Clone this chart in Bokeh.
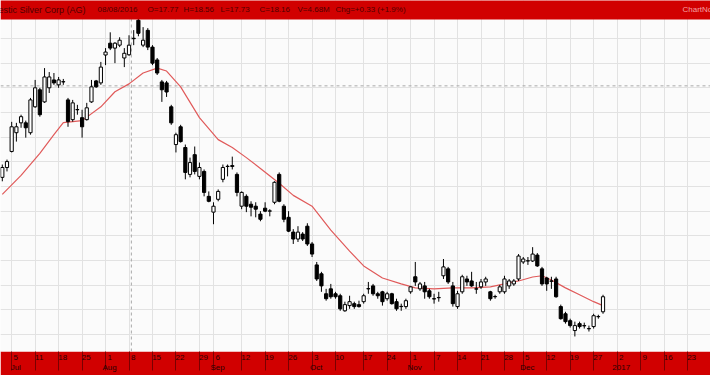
from bokeh.plotting import figure
from bokeh.models import FixedTicker, Span, Range1d
from bokeh.embed import file_html
from bokeh.resources import INLINE
from bokeh.core.properties import value

# Daily OHLC, First Majestic Silver (AG), 29 Jun 2016 .. 30 Dec 2016 (trading-day index 0..128)
opens = [12.80, 13.20, 13.85, 14.61, 15.01, 15.01, 14.61, 15.66, 16.35, 15.86,
         16.43, 16.75, 16.55, 16.67, 15.94, 15.14, 15.54, 15.22, 15.14, 15.86,
         16.71, 16.63, 17.76, 18.24, 18.04, 18.16, 17.64, 17.77, 18.44, 19.17,
         18.16, 18.76, 18.08, 17.56, 16.67, 16.63, 15.66, 14.13, 14.85, 14.01,
         12.92, 13.72, 12.84, 13.04, 12.03, 11.39, 11.91, 12.72, 13.24, 13.24,
         12.92, 11.63, 12.03, 11.71, 11.63, 11.31, 11.55, 11.43, 11.79, 12.92,
         11.63, 11.18, 10.58, 10.30, 10.50, 10.82, 10.10, 9.25, 8.89, 8.08,
         8.28, 8.08, 8.00, 7.39, 7.60, 7.68, 7.64, 7.76, 8.28, 8.40,
         8.08, 8.16, 7.88, 8.08, 7.76, 7.56, 7.56, 8.16, 8.77, 8.28,
         8.40, 8.20, 7.88, 7.92, 8.81, 9.09, 8.40, 7.56, 8.16, 8.68,
         8.60, 8.28, 8.36, 8.56, 8.16, 7.96, 8.16, 8.16, 8.40, 8.48,
         8.68, 9.37, 9.41, 9.41, 9.65, 9.09, 8.72, 8.60, 8.68, 7.56,
         7.27, 6.99, 6.59, 6.87, 6.79, 6.67, 6.75, 7.15, 7.35]
highs = [13.32, 13.52, 15.05, 15.01, 15.34, 15.10, 16.02, 16.75, 16.43, 17.23,
         17.07, 17.03, 16.87, 16.79, 16.02, 15.94, 15.74, 15.54, 15.82, 16.75,
         16.75, 17.48, 18.04, 18.68, 18.28, 18.48, 18.04, 18.56, 18.77, 19.25,
         18.89, 18.85, 18.16, 17.64, 16.75, 16.71, 15.74, 14.61, 14.93, 14.13,
         13.60, 14.05, 13.40, 13.12, 12.23, 11.79, 12.31, 13.32, 13.32, 13.64,
         13.00, 12.23, 12.11, 11.83, 11.79, 11.43, 11.79, 11.51, 12.64, 13.00,
         11.71, 11.43, 10.70, 10.82, 10.58, 10.94, 10.18, 9.37, 8.97, 8.28,
         8.48, 8.16, 8.08, 7.76, 8.00, 7.76, 7.80, 8.08, 8.56, 8.48,
         8.16, 8.20, 8.16, 8.12, 7.88, 7.68, 7.88, 8.40, 9.37, 8.56,
         8.56, 8.28, 8.08, 8.16, 9.49, 9.17, 8.56, 8.20, 8.85, 8.81,
         8.97, 8.56, 8.68, 8.77, 8.20, 8.04, 8.44, 8.81, 8.68, 8.68,
         9.69, 9.57, 9.57, 9.97, 9.73, 9.17, 8.77, 8.77, 8.77, 7.64,
         7.35, 7.07, 6.95, 6.95, 6.91, 6.79, 7.27, 7.23, 8.04]
lows = [12.64, 13.04, 13.81, 14.25, 14.81, 14.41, 14.53, 15.62, 15.26, 15.82,
        16.22, 16.55, 16.43, 16.55, 14.85, 15.06, 15.34, 14.41, 15.10, 15.82,
        16.43, 16.55, 17.35, 17.96, 17.43, 18.08, 17.27, 17.73, 18.16, 18.52,
        18.08, 17.96, 17.35, 16.95, 15.86, 16.06, 14.93, 13.81, 14.21, 12.72,
        12.80, 12.92, 12.72, 12.03, 11.79, 10.90, 11.83, 12.60, 12.84, 13.12,
        12.03, 11.51, 11.39, 11.22, 11.18, 11.02, 11.39, 11.22, 11.71, 11.79,
        10.98, 10.58, 10.10, 10.18, 10.22, 10.02, 9.57, 8.60, 8.16, 7.80,
        7.88, 7.88, 7.39, 7.35, 7.47, 7.47, 7.52, 7.68, 8.08, 8.00,
        7.88, 7.60, 7.80, 7.64, 7.39, 7.39, 7.47, 8.08, 8.40, 8.20,
        7.88, 7.88, 7.68, 7.76, 8.68, 8.48, 7.56, 7.47, 8.08, 8.40,
        8.36, 8.08, 8.28, 8.40, 7.80, 7.88, 8.08, 8.08, 8.28, 8.40,
        8.60, 9.29, 9.25, 9.37, 9.17, 8.40, 8.20, 8.28, 7.92, 7.03,
        6.87, 6.71, 6.35, 6.67, 6.67, 6.55, 6.67, 7.07, 7.27]
closes = [13.20, 13.44, 14.85, 14.85, 15.26, 14.81, 15.94, 16.43, 15.34, 16.87,
          16.87, 16.63, 16.75, 16.68, 15.06, 15.82, 15.55, 14.85, 15.62, 16.47,
          16.47, 17.27, 17.88, 18.04, 18.24, 18.36, 17.83, 18.16, 18.42, 18.64,
          18.36, 18.08, 17.43, 17.03, 16.35, 16.26, 15.01, 14.53, 14.25, 13.00,
          13.40, 13.04, 13.20, 12.19, 11.83, 11.63, 12.23, 13.20, 13.25, 13.28,
          12.19, 12.19, 11.63, 11.59, 11.51, 11.10, 11.43, 11.44, 12.60, 11.83,
          11.10, 10.62, 10.30, 10.58, 10.30, 10.10, 9.69, 8.68, 8.40, 7.88,
          7.96, 7.96, 7.47, 7.64, 7.76, 7.56, 7.56, 8.00, 8.29, 8.08,
          8.00, 7.76, 8.08, 7.68, 7.47, 7.57, 7.80, 8.36, 8.56, 8.48,
          8.16, 7.96, 7.87, 7.93, 9.17, 8.56, 7.68, 8.08, 8.77, 8.56,
          8.40, 8.27, 8.56, 8.68, 7.88, 7.97, 8.36, 8.68, 8.60, 8.60,
          9.61, 9.49, 9.42, 9.69, 9.21, 8.48, 8.48, 8.59, 7.96, 7.07,
          6.95, 6.79, 6.79, 6.75, 6.78, 6.66, 7.19, 7.16, 7.96]

# 20-day moving average, sampled at these trading days
ma_days = [0, 4, 8, 11, 13, 17, 21, 24, 27, 30, 33, 35, 38, 42, 46, 49, 52, 55, 59, 62,
           66, 70, 74, 77, 81, 85, 88, 92, 96, 100, 104, 107, 110, 113, 115, 117, 120, 123, 126, 128]
ma_vals = [12.11, 12.88, 13.77, 14.53, 15.02, 15.10, 15.66, 16.27, 16.59, 17.03,
           17.23, 17.11, 16.47, 15.22, 14.33, 14.01, 13.60, 13.16, 12.56, 12.07,
           11.63, 10.66, 9.81, 9.21, 8.72, 8.48, 8.32, 8.28, 8.32, 8.32,
           8.36, 8.48, 8.60, 8.76, 8.81, 8.64, 8.32, 8.04, 7.76, 7.60]

# Date axis: trading-day position of each weekly / month tick and its label
tick_days = [-2, 2, 7, 12, 17, 22, 27, 32, 37, 42, 45, 51, 56, 61, 66, 71, 77, 82, 87,
             92, 97, 102, 107, 111, 116, 121, 126, 131, 136, 141, 146]
tick_labels = ["27", "5\nJul", "11", "18", "25", "1\nAug", "8", "15", "22", "29", "6\nSep",
               "12", "19", "26", "3\nOct", "10", "17", "24", "1\nNov", "7", "14", "21", "28",
               "5\nDec", "12", "19", "27", "2\n2017", "9", "16", "23"]

grid_prices = [6.43, 7.43, 8.43, 9.43, 10.43, 11.43, 12.43, 13.43, 14.43, 15.43, 16.43, 17.43, 18.43]

sel_day = 27                # 08/08/2016
sel_date = "08/08/2016"
sel_volume = "4.68M"
cursor_day = 27.5
cursor_price = 16.51

RED = "#d10000"
HEAD_TEXT = "#4e0000"
FONT = "Liberation Sans"
W, H, AXIS_H, HEADER_H = 710, 375, 22, 19
X0, X1 = -0.384, 150.9
Y0, Y1 = 5.74, 19.97
FRAME_H = H - AXIS_H


def col(px):
    """Horizontal pixel offset inside the frame -> trading-day coordinate."""
    return X0 + (X1 - X0) * px / W


def row(py):
    """Vertical pixel offset from the top of the frame -> price coordinate."""
    return Y1 - (Y1 - Y0) * py / FRAME_H


days = list(range(len(opens)))
up = [c >= o for o, c in zip(opens, closes)]

p = figure(width=W, height=H, x_range=Range1d(X0, X1), y_range=Range1d(Y0, Y1),
           toolbar_location=None, output_backend="svg",
           min_border_left=0, min_border_right=0, min_border_top=0, min_border_bottom=AXIS_H)
p.background_fill_color = "#fbfbfb"
p.border_fill_color = RED
p.outline_line_color = None
p.yaxis.visible = False

p.ygrid.ticker = FixedTicker(ticks=grid_prices)
p.xgrid.ticker = FixedTicker(ticks=tick_days)
p.grid.grid_line_color = "#e2e2e2"
p.grid.grid_line_width = 1

# date axis inside the red footer: separators as minor ticks, labels just right of them
label_pos = [d + 0.875 for d in tick_days]
p.xaxis.ticker = FixedTicker(ticks=label_pos, minor_ticks=tick_days)
p.xaxis.major_label_overrides = {pos: lab for pos, lab in zip(label_pos, tick_labels)}
p.xaxis.axis_line_color = None
p.xaxis.major_tick_out = 0
p.xaxis.major_tick_in = 0
p.xaxis.minor_tick_in = 0
p.xaxis.minor_tick_out = 19
p.xaxis.minor_tick_line_color = "#7a0000"
p.xaxis.major_label_standoff = -18
p.xaxis.major_label_text_font = FONT
p.xaxis.major_label_text_font_size = "8px"
p.xaxis.major_label_text_color = "#2a0000"

# cursor cross-hair
p.add_layout(Span(location=cursor_day, dimension="height", line_color="#a8a8a8",
                  line_dash="3 3", line_width=1, level="underlay"))
p.add_layout(Span(location=cursor_price, dimension="width", line_color="#a8a8a8",
                  line_dash="3 3", line_width=1, level="underlay"))

# moving average
p.line(ma_days, ma_vals, line_color="#e05a5a", line_width=1.2)

# candles
p.segment(x0=days, y0=lows, x1=days, y1=highs, line_color="black", line_width=1)
p.vbar(x=days, width=0.68, top=[max(o, c) for o, c in zip(opens, closes)],
       bottom=[min(o, c) for o, c in zip(opens, closes)],
       fill_color=["white" if u else "black" for u in up], line_color="black", line_width=1)

# header band with the quote of the selected day
p.quad(left=[X0], right=[X1], bottom=[row(HEADER_H)], top=[Y1 + 1],
       fill_color=RED, line_color=None)

chg = closes[sel_day] - closes[sel_day - 1]
pct = 100 * chg / closes[sel_day - 1]
ty = row(HEADER_H / 2)
p.text(x=[col(85)], y=[ty], text=["First Majestic Silver Corp (AG)"], text_align="right",
       text_baseline="middle", text_font=value(FONT), text_font_size="9px", text_color=HEAD_TEXT)
items = [
    (97, sel_date),
    (147, f"O={opens[sel_day]:.2f}"),
    (183, f"H={highs[sel_day]:.2f}"),
    (220, f"L={lows[sel_day]:.2f}"),
    (259, f"C={closes[sel_day]:.2f}"),
    (297, f"V={sel_volume}"),
    (335, f"Chg={chg:+.2f} ({pct:+.1f}%)"),
]
p.text(x=[col(it[0]) for it in items], y=[ty] * len(items), text=[it[1] for it in items],
       text_align="left", text_baseline="middle",
       text_font=value(FONT), text_font_size="8px", text_color=HEAD_TEXT)
p.text(x=[col(682)], y=[ty], text=["ChartNotes"], text_align="left", text_baseline="middle",
       text_font=value(FONT), text_font_size="8px", text_color="#f3a0a0")

open("out.html", "w").write(file_html(p, INLINE))
